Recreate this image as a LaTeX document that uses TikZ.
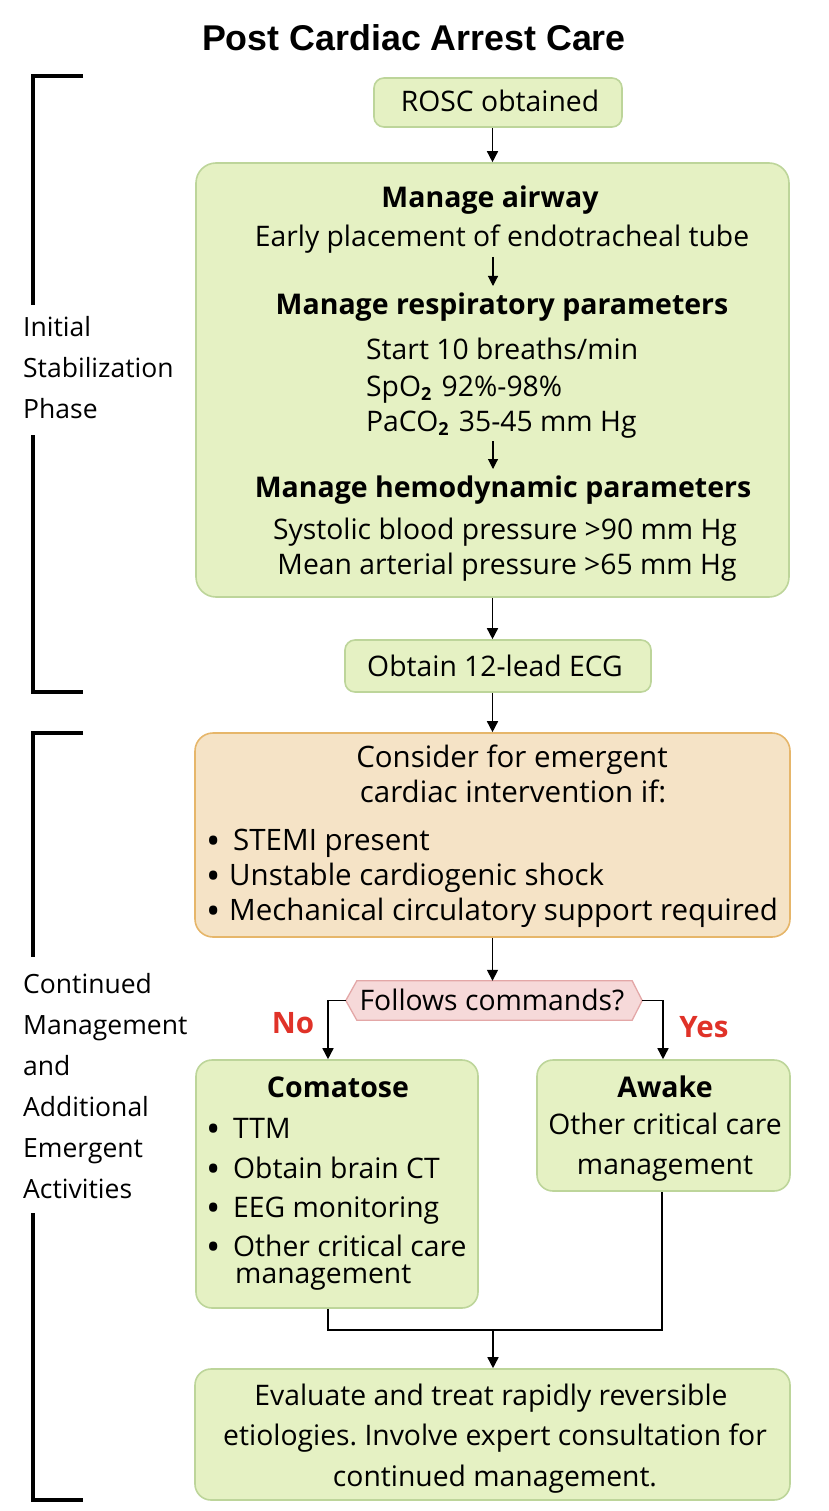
\documentclass[tikz,border=0pt]{standalone}
\usepackage{fontspec}
\setmainfont{Open Sans}
\newfontfamily\titlefont{Liberation Sans}
\usetikzlibrary{arrows.meta}
\frenchspacing
\definecolor{gfill}{HTML}{E5F1C3}
\definecolor{gborder}{HTML}{BDD59A}
\definecolor{ofill}{HTML}{F5E3C6}
\definecolor{oborder}{HTML}{E6B66A}
\definecolor{pfill}{HTML}{F6D9D9}
\definecolor{pborder}{HTML}{E3A7A7}
\definecolor{lblred}{HTML}{E03228}
\newcommand{\subtwo}{\raisebox{-0.28ex}{\fontsize{18}{18}\selectfont\bfseries 2}\hspace{3pt}}
\newcommand{\bul}{\raisebox{-4.5pt}{\fontsize{38}{38}\selectfont •}}
\tikzset{
  gbox/.style={draw=gborder, fill=gfill, line width=1.6pt, rounded corners=16pt, inner sep=0pt},
  obox/.style={draw=oborder, fill=ofill, line width=1.6pt, rounded corners=18pt, inner sep=0pt},
  txt/.style={font=\fontsize{28.3}{32}\selectfont, inner sep=0pt, anchor=base},
  ltxt/.style={txt, anchor=base west},
  otxt/.style={txt, font=\fontsize{29.5}{34}\selectfont},
  oltxt/.style={otxt, anchor=base west},
  brtxt/.style={txt, anchor=base west, font=\fontsize{26.5}{30}\selectfont},
  btxt/.style={txt, font=\fontsize{28.5}{32}\selectfont\bfseries},
  lbl/.style={txt, font=\fontsize{29.5}{32}\selectfont\bfseries, text=lblred},
  arr/.style={line width=1.5pt, -{Triangle[width=11pt,length=11pt]}},
  sarr/.style={line width=1.1pt, -{Triangle[width=10pt,length=10pt]}},
  link/.style={line width=1.5pt},
  brk/.style={line width=4pt}
}
\begin{document}
\begin{tikzpicture}[x=1pt,y=-1pt]
\useasboundingbox (0,0) rectangle (828,1511);
% title
\node[inner sep=0pt, anchor=base, font=\titlefont\fontsize{35.8}{40}\selectfont\bfseries] (title) at (414,51) {Post Cardiac Arrest Care};

% brackets
\draw[brk] (83,76) -- (33,76) -- (33,305);
\draw[brk] (33,435) -- (33,692) -- (83,692);
\draw[brk] (83,733) -- (33,733) -- (33,957);
\draw[brk] (33,1213) -- (33,1500) -- (83,1500);
\node[brtxt] (ph1a) at (23,336) {Initial};
\node[brtxt] (ph1b) at (23,377) {Stabilization};
\node[brtxt] (ph1c) at (23,418) {Phase};
\node[brtxt] (ph2a) at (23,993) {Continued};
\node[brtxt] (ph2b) at (23,1034) {Management};
\node[brtxt] (ph2c) at (23,1075) {and};
\node[brtxt] (ph2d) at (23,1116) {Additional};
\node[brtxt] (ph2e) at (23,1157) {Emergent};
\node[brtxt] (ph2f) at (23,1198) {Activities};

% boxes
\node[gbox, rounded corners=10pt, minimum width=248pt, minimum height=49pt] (rosc) at (498,102.5) {};
\node[txt] (rosct) at (500,112) {ROSC obtained};

\node[gbox, rounded corners=20pt, minimum width=593pt, minimum height=434pt] (big) at (492.5,380) {};
\node[btxt] (air) at (490,208) {Manage airway};
\node[txt] (early) at (502,247) {Early placement of endotracheal tube};
\coordinate (s1a) at (493,257);
\coordinate (s1b) at (493,286);
\draw[sarr] (s1a) -- (s1b);
\node[btxt] (resp) at (502,315) {Manage respiratory parameters};
\node[ltxt] (r1) at (366,359) {Start 10 breaths/min};
\node[ltxt] (r2) at (366,396) {SpO\subtwo\ 92\%-98\%};
\node[ltxt] (r3) at (366,431) {PaCO\subtwo\ 35-45 mm Hg};
\coordinate (s2a) at (493,441);
\coordinate (s2b) at (493,469);
\draw[sarr] (s2a) -- (s2b);
\node[btxt] (hemo) at (503,497) {Manage hemodynamic parameters};
\node[txt] (h1) at (505,539) {Systolic blood pressure >90 mm Hg};
\node[txt] (h2) at (507,574) {Mean arterial pressure >65 mm Hg};

\node[gbox, rounded corners=10pt, minimum width=306pt, minimum height=52pt] (ecg) at (498,666) {};
\node[txt] (ecgt) at (495,676) {Obtain 12-lead ECG};

\node[obox, minimum width=595pt, minimum height=204pt] (cons) at (492.5,835) {};
\node[otxt] (c1) at (512,767) {Consider for emergent};
\node[otxt] (c2) at (513,802) {cardiac intervention if:};
\node[oltxt] (cb1) at (206.5,850) {\bul};
\node[oltxt] (ct1) at (233,850) {STEMI present};
\node[oltxt] (cb2) at (206.5,885) {\bul};
\node[oltxt] (ct2) at (229,885) {Unstable cardiogenic shock};
\node[oltxt] (cb3) at (206.5,920) {\bul};
\node[oltxt] (ct3) at (229,920) {Mechanical circulatory support required};

% decision hexagon
\node[minimum width=296pt, minimum height=39pt, inner sep=0pt] (hex) at (494,1000.5) {};
\draw[draw=pborder, fill=pfill, line width=1.3pt] (hex.west) -- ([xshift=11pt]hex.north west) -- ([xshift=-10pt]hex.north east) -- (hex.east) -- ([xshift=-10pt]hex.south east) -- ([xshift=11pt]hex.south west) -- cycle;
\node[txt] (hext) at (492,1010) {Follows commands?};

\node[gbox, minimum width=282pt, minimum height=248pt] (coma) at (337,1184) {};
\node[btxt] (comat) at (338,1097) {Comatose};
\node[ltxt] (k1b) at (206.5,1138) {\bul};
\node[ltxt] (k1) at (233,1138) {TTM};
\node[ltxt] (k2b) at (206.5,1178) {\bul};
\node[ltxt] (k2) at (233,1178) {Obtain brain CT};
\node[ltxt] (k3b) at (206.5,1217) {\bul};
\node[ltxt] (k3) at (233,1217) {EEG monitoring};
\node[ltxt] (k4b) at (206.5,1256) {\bul};
\node[ltxt] (k4) at (233,1256) {Other critical care};
\node[ltxt] (k5) at (235,1283) {management};

\node[gbox, minimum width=253pt, minimum height=131pt] (awake) at (663.5,1125.5) {};
\node[btxt] (awt) at (665,1097) {Awake};
\node[txt] (aw1) at (665,1134) {Other critical care};
\node[txt] (aw2) at (665,1174) {management};

\node[gbox, minimum width=595pt, minimum height=131pt] (eval) at (492.5,1434.5) {};
\node[txt] (e1) at (491,1405) {Evaluate and treat rapidly reversible};
\node[txt] (e2) at (495,1445) {etiologies. Involve expert consultation for};
\node[txt] (e3) at (495,1486) {continued management.};

% connectors
\draw[arr] (rosc.south -| big.north) -- (big.north);
\draw[arr] (big.south) -- (ecg.north -| big.south);
\draw[arr] (ecg.south -| cons.north) -- (cons.north);
\draw[arr] (cons.south) -- (hex.north -| cons.south);
\coordinate (nojoin) at (328,1000.5);
\coordinate (yesjoin) at (663,1000.5);
\draw[arr] (hex.west) -- (nojoin) -- (nojoin |- coma.north);
\draw[arr] (hex.east) -- (yesjoin) -- (yesjoin |- awake.north);
\node[lbl] (no) at (293,1033) {No};
\node[lbl] (yes) at (704,1037) {Yes};
\coordinate (mergeL) at (328,1330);
\coordinate (mergeR) at (662,1330);
\coordinate (mergeM) at (493,1330);
\draw[link] (mergeL |- coma.south) -- (mergeL) -- (mergeR) -- (mergeR |- awake.south);
\draw[arr] (mergeM) -- (mergeM |- eval.north);
\end{tikzpicture}
\end{document}
